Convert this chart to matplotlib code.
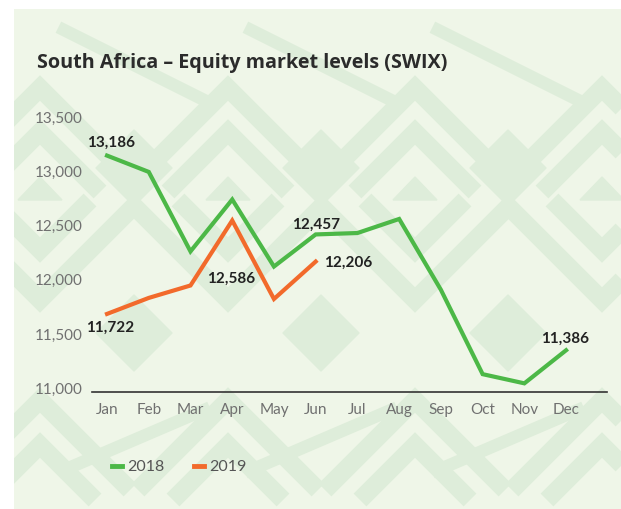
import matplotlib.pyplot as plt
import matplotlib.transforms as mtransforms
from matplotlib.patches import Polygon

months = ['Jan', 'Feb', 'Mar', 'Apr', 'May', 'Jun', 'Jul', 'Aug', 'Sep', 'Oct', 'Nov', 'Dec']
swix_2018 = [13186, 13035, 12300, 12780, 12160, 12457, 12470, 12600, 11945, 11165, 11080, 11386]
swix_2019 = [11722, 11870, 11985, 12586, 11860, 12206]
yticks = [11000, 11500, 12000, 12500, 13000, 13500]

GREEN = '#4cb847'
ORANGE = '#f26a2b'
BG = '#eff6e8'
PAT = '#deedda'

fig = plt.figure(figsize=(6.21, 5.09), dpi=100)

# background panel with a rough geometric pattern (pixel coords)
bg = fig.add_axes([14 / 621, 0, 1 - 14 / 621, 1 - 9 / 509])
bg.set_xlim(14, 621)
bg.set_ylim(509, 9)
bg.set_facecolor(BG)
bg.axis('off')
bg.add_patch(plt.Rectangle((14, 9), 607, 500, color=BG, zorder=0))


def chevron(cx, cy, half, up=True, lw=13):
    dy = half if up else -half
    bg.plot([cx - half, cx, cx + half], [cy + dy, cy, cy + dy],
            color=PAT, lw=lw, solid_joinstyle='miter', solid_capstyle='butt', zorder=1)


for cx in [40, 228, 415, 602]:
    chevron(cx, 88, 95, up=True)
    chevron(cx, 132, 60, up=True)
    bg.add_patch(Polygon([[cx - 22, 200], [cx, 177], [cx + 22, 200]], color=PAT, zorder=1))
    chevron(cx, 300, 95, up=False)
    chevron(cx, 250, 50, up=False)
    chevron(cx, 400, 90, up=True)
    chevron(cx, 445, 55, up=True)
for cx in [134, 321, 508]:
    bg.add_patch(Polygon([[cx, 130], [cx + 38, 168], [cx, 206], [cx - 38, 168]], color=PAT, zorder=1))
    bg.add_patch(Polygon([[cx, 295], [cx + 38, 333], [cx, 371], [cx - 38, 333]], color=PAT, zorder=1))
    bg.plot([cx - 70, cx + 70], [30, 100], color=PAT, lw=9, zorder=1)
    bg.plot([cx - 70, cx + 70], [470, 410], color=PAT, lw=9, zorder=1)

# main chart
ax = fig.add_axes([92 / 621, (509 - 392) / 509, (607 - 92) / 621, (392 - 100) / 509])
ax.patch.set_alpha(0)
x = range(len(months))
ax.plot(x, swix_2018, color=GREEN, lw=3, label='2018', solid_joinstyle='miter')
ax.plot(range(len(swix_2019)), swix_2019, color=ORANGE, lw=3, label='2019', solid_joinstyle='miter')

ax.set_xlim(-0.36, 11.98)
ax.set_ylim(11000, 13700)
ax.set_xticks(list(x))
ax.set_xticklabels(months, fontfamily='Lato')
ax.set_yticks(yticks)
ax.set_yticklabels([f'{v:,}' for v in yticks], fontfamily='Lato')
for s in ['top', 'right', 'left']:
    ax.spines[s].set_visible(False)
ax.spines['bottom'].set_color('#333333')
ax.spines['bottom'].set_linewidth(1.2)
ax.tick_params(length=0, labelsize=11, labelcolor='#707070')
ax.tick_params(axis='y', pad=7)
ax.tick_params(axis='x', pad=8)
up = mtransforms.ScaledTranslation(0, 4 / 100, fig.dpi_scale_trans)
for lab in ax.get_yticklabels():
    lab.set_transform(lab.get_transform() + up)

lbl = dict(fontsize=11, fontweight='bold', fontfamily='Lato', color='#222222', textcoords='offset points')
ax.annotate('13,186', (0, swix_2018[0]), xytext=(3, 9), ha='center', va='center', **lbl)
ax.annotate('12,457', (5, swix_2018[5]), xytext=(0, 7), ha='center', va='center', **lbl)
ax.annotate('11,386', (11, swix_2018[11]), xytext=(-1, 8), ha='center', va='center', **lbl)
ax.annotate('11,722', (0, swix_2019[0]), xytext=(2, -10), ha='center', va='center', **lbl)
ax.annotate('12,586', (3, swix_2019[3]), xytext=(-1, -42), ha='center', va='center', **lbl)
ax.annotate('12,206', (5, swix_2019[5]), xytext=(6, -1), ha='left', va='center', **lbl)

fig.text(37 / 621, 1 - 63 / 509, 'South Africa \u2013 Equity market levels (SWIX)',
         fontsize=14.2, fontweight='bold', fontfamily='Open Sans', color='#2b2b2b',
         va='center', ha='left')

leg = ax.legend(loc='center left', bbox_to_anchor=(98 / 621, 1 - 467 / 509),
                bbox_transform=fig.transFigure, ncol=2, frameon=False,
                handlelength=0.6, handletextpad=0.3, columnspacing=1.9,
                prop={'family': 'Lato', 'size': 11.5})
for t in leg.get_texts():
    t.set_color('#555555')
for h in leg.get_lines():
    h.set_linewidth(3.5)

fig.savefig('out.png', dpi=100)
